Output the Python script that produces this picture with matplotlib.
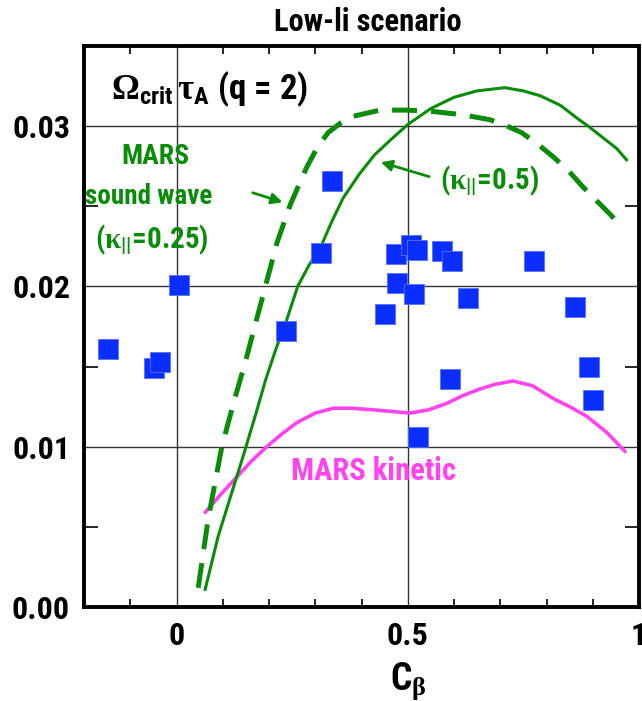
import matplotlib
matplotlib.use("Agg")
import matplotlib.pyplot as plt
from matplotlib.ticker import MultipleLocator, FixedLocator

plt.rcParams['font.family'] = ['Roboto Condensed', 'DejaVu Sans']
plt.rcParams['font.weight'] = 'bold'
plt.rcParams['mathtext.fontset'] = 'custom'
plt.rcParams['mathtext.rm'] = 'Liberation Serif'
plt.rcParams['mathtext.it'] = 'Liberation Serif'
plt.rcParams['mathtext.bf'] = 'Roboto Condensed:bold'
plt.rcParams['mathtext.sf'] = 'Roboto Condensed:bold'

# measured critical rotation (blue squares)
exp_cb = [-0.148, -0.048, -0.035, 0.005, 0.237, 0.312, 0.336, 0.451, 0.475, 0.477,
          0.507, 0.520, 0.514, 0.522, 0.575, 0.595, 0.591, 0.631, 0.773, 0.862,
          0.891, 0.901]
exp_omega = [0.0161, 0.0149, 0.0153, 0.0201, 0.0172, 0.0221, 0.0266, 0.0183, 0.0220, 0.0202,
             0.0226, 0.0223, 0.0195, 0.0106, 0.0222, 0.0216, 0.0142, 0.0193, 0.0216, 0.0187,
             0.0150, 0.0129]

# MARS sound wave, kappa_par = 0.5 (solid)
sw05_cb = [0.062, 0.090, 0.118, 0.144, 0.170, 0.193, 0.215, 0.237, 0.262, 0.286, 0.311,
           0.335, 0.360, 0.395, 0.428, 0.465, 0.500, 0.550, 0.600, 0.650, 0.710, 0.750,
           0.786, 0.830, 0.866, 0.890, 0.930, 0.952, 0.973]
sw05_om = [0.0011, 0.0044, 0.0070, 0.0094, 0.0119, 0.0142, 0.0161, 0.0178, 0.0200, 0.0213, 0.0224,
           0.0240, 0.0255, 0.0270, 0.0282, 0.0292, 0.0301, 0.0311, 0.0318, 0.0322, 0.0324, 0.0322,
           0.0319, 0.0313, 0.0305, 0.0300, 0.0291, 0.0286, 0.0279]

# MARS sound wave, kappa_par = 0.25 (dashed)
sw025_cb = [0.047, 0.068, 0.098, 0.124, 0.148, 0.194, 0.217, 0.246, 0.281, 0.305, 0.328,
            0.355, 0.380, 0.440, 0.500, 0.560, 0.620, 0.678, 0.715, 0.746, 0.780, 0.814,
            0.848, 0.879, 0.910, 0.941, 0.960]
sw025_om = [0.0012, 0.0054, 0.0100, 0.0128, 0.0152, 0.0202, 0.0227, 0.0251, 0.0274, 0.0287, 0.0296,
            0.0302, 0.0306, 0.0310, 0.0310, 0.0309, 0.0307, 0.0304, 0.0300, 0.0296, 0.0289, 0.0281,
            0.0272, 0.0262, 0.0253, 0.0244, 0.0237]

# MARS kinetic (magenta)
kin_cb = [0.062, 0.095, 0.130, 0.162, 0.195, 0.228, 0.260, 0.300, 0.339, 0.380, 0.426,
          0.465, 0.505, 0.545, 0.584, 0.620, 0.656, 0.690, 0.728, 0.770, 0.815, 0.850,
          0.887, 0.930, 0.970]
kin_om = [0.0059, 0.0070, 0.0081, 0.0091, 0.0100, 0.0108, 0.0115, 0.0121, 0.0124, 0.0124, 0.0123,
          0.0122, 0.0121, 0.0123, 0.0127, 0.0132, 0.0136, 0.0139, 0.0141, 0.0138, 0.0130, 0.0125,
          0.0119, 0.0109, 0.0097]

green = '#0a8c0a'
magenta = '#ff44ee'
blue = '#0a2eff'

fig = plt.figure(figsize=(6.42, 7.01), dpi=100)
ax = fig.add_axes([84/642, 1 - 607/701, 555/642, 561/701])

ax.set_xlim(-0.2, 1.0)
ax.set_ylim(0.0, 0.035)

# grid lines only at major positions
for xv in [0.0, 0.5]:
    ax.axvline(xv, color='#333333', lw=1.0, zorder=1)
for yv in [0.01, 0.02, 0.03]:
    ax.axhline(yv, color='#333333', lw=1.0, zorder=1)

ax.plot(kin_cb, kin_om, color=magenta, lw=2.6, zorder=3, solid_capstyle='round')
ax.plot(sw05_cb, sw05_om, color=green, lw=2.2, zorder=3)
ax.plot(sw025_cb, sw025_om, color=green, lw=3.6, zorder=3,
        dashes=(5, 2.8), dash_capstyle='butt')
ax.plot(exp_cb, exp_omega, ls='none', marker='s', ms=14, color=blue,
        mec='#5570ff', mew=0.6, zorder=4)

# annotations
ax.text(-0.141, 0.0323, r'$\Omega_{\mathsf{crit}}\,\tau_{\mathsf{A}}$ (q = 2)', fontsize=25,
        ha='left', va='center', color='black')
ax.text(-0.046, 0.0281, 'MARS', fontsize=20, color=green, ha='center', va='center')
ax.text(-0.060, 0.0256, 'sound wave', fontsize=19.5, color=green, ha='center', va='center')
ax.text(-0.053, 0.0229, r'($\kappa_{\mathsf{||}}$=0.25)', fontsize=21, color=green,
        ha='center', va='center')
ax.text(0.676, 0.0266, r'($\kappa_{\mathsf{||}}$=0.5)', fontsize=21, color=green,
        ha='center', va='center')
ax.text(0.427, 0.0085, 'MARS kinetic', fontsize=22, color=magenta, ha='center', va='center')

arrow = dict(arrowstyle='-|>', color=green, lw=2, mutation_scale=16)
ax.annotate('', xy=(0.235, 0.0252), xytext=(0.159, 0.0259), arrowprops=arrow)
ax.annotate('', xy=(0.436, 0.0278), xytext=(0.552, 0.0268), arrowprops=arrow)

# ticks
ax.xaxis.set_major_locator(FixedLocator([0.0, 0.5, 1.0]))
ax.set_xticklabels(['0', '0.5', '1'])
ax.xaxis.set_minor_locator(MultipleLocator(0.1))
ax.yaxis.set_major_locator(FixedLocator([0.0, 0.01, 0.02, 0.03]))
ax.set_yticklabels(['0.00', '0.01', '0.02', '0.03'])
ax.yaxis.set_minor_locator(MultipleLocator(0.005))
ax.tick_params(which='both', direction='in', top=True, right=True, width=1.2)
ax.tick_params(which='major', length=0, labelsize=23, pad=10)
ax.tick_params(axis='x', which='minor', length=6)
ax.tick_params(axis='y', which='minor', length=10)
for s in ax.spines.values():
    s.set_linewidth(2.8)
ax.set_zorder(2)

ax.set_xlabel(r'C$_{\beta}$', fontsize=27, fontweight='bold')
ax.xaxis.set_label_coords(0.585, -0.095)
fig.text(368 / 642, 1 - 22 / 701, 'Low-li scenario', fontsize=22,
         ha='center', va='center')

fig.savefig('out.png', dpi=100)
